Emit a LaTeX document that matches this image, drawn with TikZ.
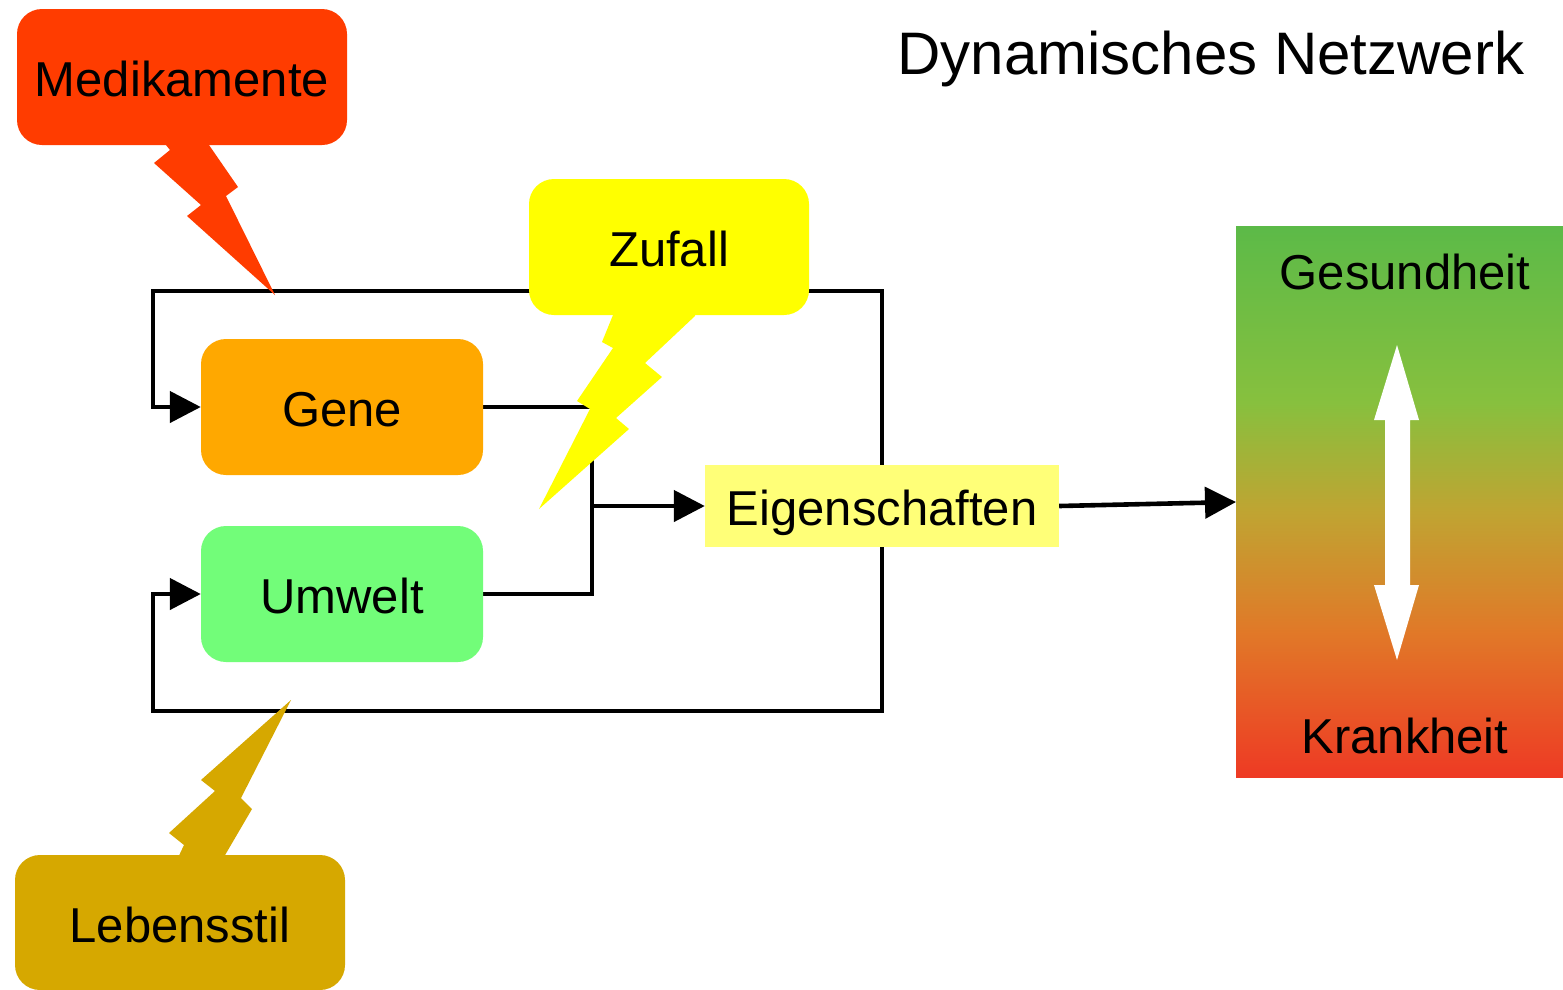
\documentclass[tikz,border=0pt]{standalone}
\usepackage{fontspec}
\setmainfont{Liberation Sans}
\usetikzlibrary{arrows.meta}
\pgfdeclarelayer{back}
\pgfdeclarelayer{bg}
\pgfsetlayers{back,bg,main}
\definecolor{cMed}{RGB}{255,60,0}
\definecolor{cZuf}{RGB}{255,255,0}
\definecolor{cGene}{RGB}{255,168,0}
\definecolor{cUmw}{RGB}{114,253,121}
\definecolor{cLeb}{RGB}{214,168,0}
\definecolor{cEig}{RGB}{255,255,120}
\definecolor{hGreen}{RGB}{92,186,72}
\definecolor{hLime}{RGB}{135,192,62}
\definecolor{hOlive}{RGB}{192,164,50}
\definecolor{hOrange}{RGB}{225,120,40}
\definecolor{hRed}{RGB}{238,58,36}
\pgfdeclareverticalshading{hkshade}{100bp}{color(0bp)=(hRed); color(25bp)=(hRed); color(38bp)=(hOrange); color(49bp)=(hOlive); color(59bp)=(hLime); color(75bp)=(hGreen); color(100bp)=(hGreen)}
\tikzset{
  txt/.style={inner sep=0pt, text height=39pt, text depth=0pt, font=\fontsize{49}{58}\selectfont},
  box/.style={txt, rounded corners=25pt},
  conn/.style={line width=4.6pt, draw=black},
  tip/.style={-{Triangle[length=31pt,width=31pt]}},
}
\begin{document}
\begin{tikzpicture}[x=1pt,y=-1pt]
\useasboundingbox (0,0) rectangle (1563,989);
\begin{pgfonlayer}{back}
\fill[white] (0,0) rectangle (1563,989);
\end{pgfonlayer}
% health scale
\node[shade, shading=hkshade, minimum width=327pt, minimum height=551pt, inner sep=0pt] (hk) at (1399.5,501.5) {};
\fill[white] (1397,345) -- (1419,420) -- (1410,420) -- (1410,585) -- (1419,585) -- (1397,660) -- (1374,585) -- (1385,585) -- (1385,420) -- (1374,420) -- cycle;
\node[txt] (ges) at (1405,270) {Gesundheit};
\node[txt] (kra) at (1405,734) {Krankheit};
% title
\node[inner sep=0pt, text height=43pt, text depth=0pt, font=\fontsize{60}{70}\selectfont] (title) at (1211,52.5) {Dynamisches Netzwerk};
% boxes
\node[box, fill=cMed, minimum width=330pt, minimum height=136pt] (med) at (182,77) {Medikamente};
\node[box, fill=cZuf, minimum width=280pt, minimum height=136pt] (zuf) at (669,247) {Zufall};
\node[box, fill=cGene, minimum width=282pt, minimum height=136pt] (gene) at (342,407) {Gene};
\node[box, fill=cUmw, minimum width=282pt, minimum height=136pt] (umw) at (342,594) {Umwelt};
\node[box, fill=cLeb, minimum width=330pt, minimum height=135pt] (leb) at (180,922.5) {Lebensstil};
\node[txt, fill=cEig, minimum width=354pt, minimum height=82pt] (eig) at (882,506) {Eigenschaften};
\coordinate (tl) at (153,291);
\coordinate (bl) at (153,711);
\coordinate (j) at (592,506);
\coordinate (hkin) at (1236,502);
% connectors
\begin{pgfonlayer}{bg}
\draw[conn, tip] (eig.north) |- (tl) |- (gene.west);
\draw[conn, tip] (eig.south) |- (bl) |- (umw.west);
\draw[conn] (gene.east) -| (j);
\draw[conn] (umw.east) -| (j);
\draw[conn, tip] (j) -- (eig.west);
\draw[conn, tip] (eig.east) -- (hkin);
\end{pgfonlayer}
% lightning bolts
\fill[cMed] (166,138) -- (166,145) -- (170,150) -- (154,163) -- (201,205) -- (187,216) -- (275,295) -- (226,196) -- (238,187) -- (209,145) -- (209,138) -- cycle;
\fill[cZuf] (613,308) -- (613,315) -- (602,342) -- (613,348) -- (577,401) -- (590,409) -- (539,509) -- (629,429) -- (616,418) -- (662,377) -- (645,363) -- (695,316) -- (695,308) -- cycle;
\fill[cLeb] (291,700) -- (201,780) -- (215,791) -- (169,833) -- (184,845) -- (176,862) -- (221,862) -- (252,809) -- (241,798) -- cycle;
\end{tikzpicture}
\end{document}
